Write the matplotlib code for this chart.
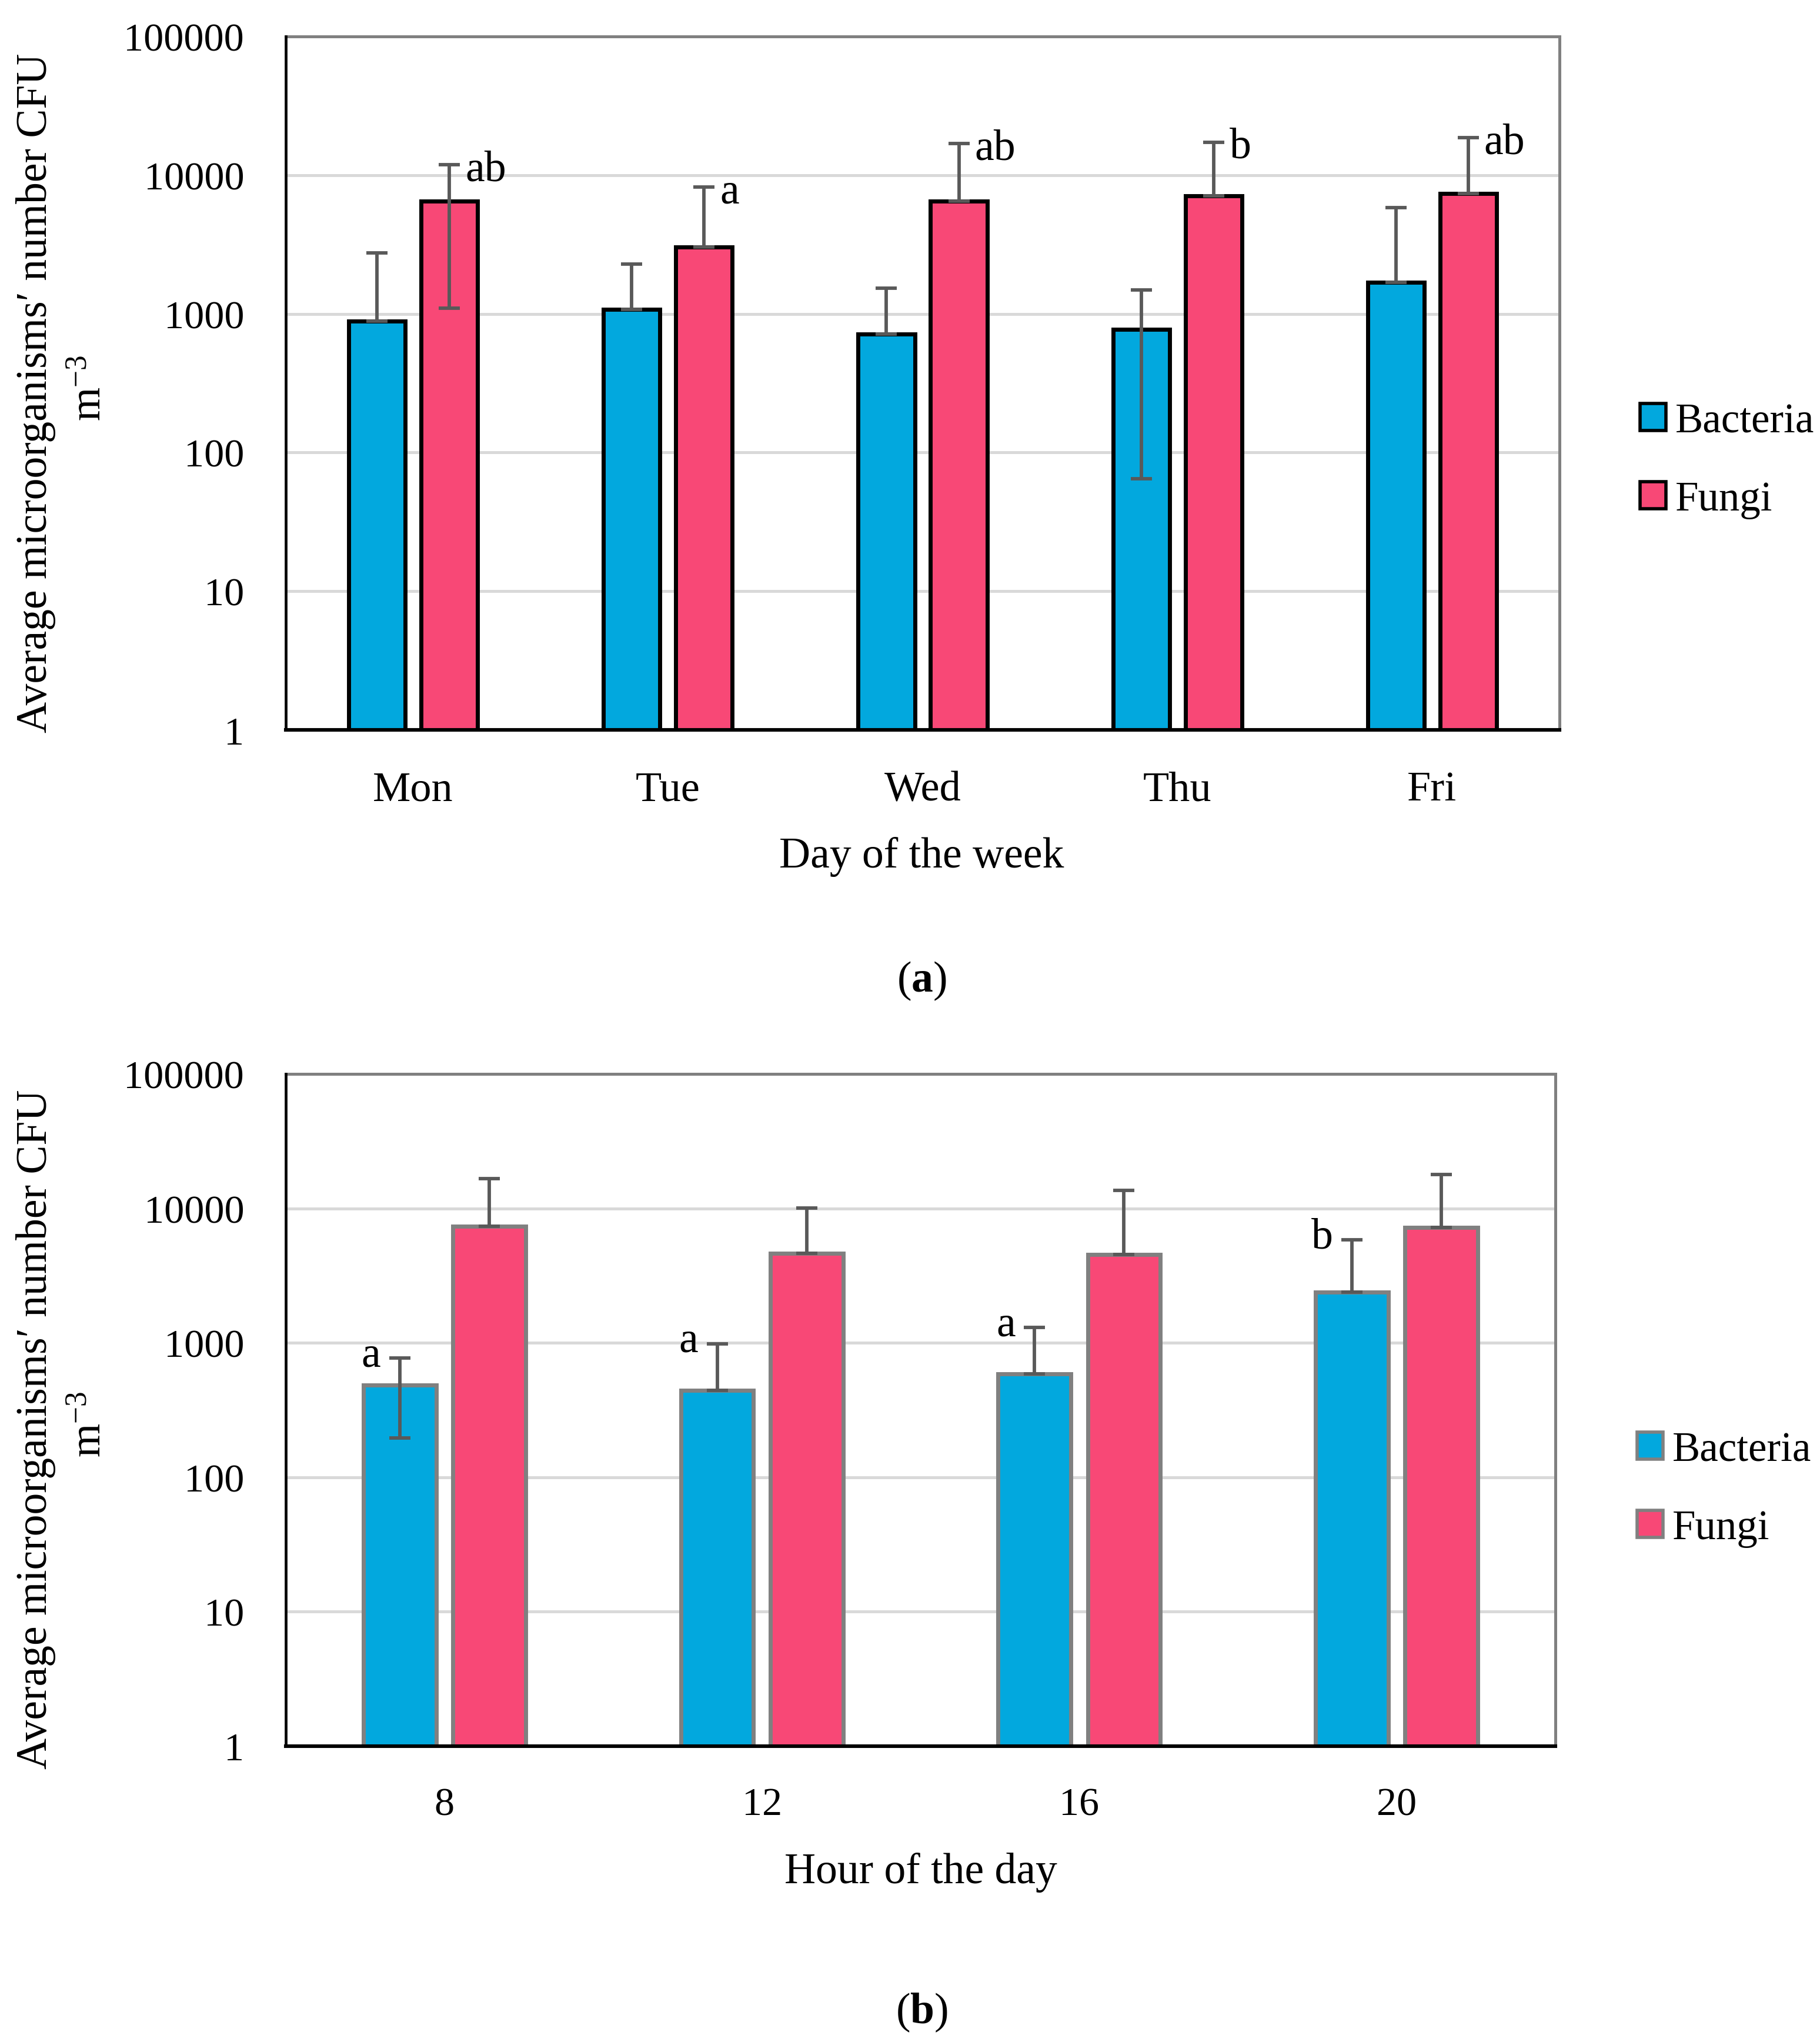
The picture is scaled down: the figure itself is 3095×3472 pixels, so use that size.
import matplotlib
matplotlib.use("Agg")
import matplotlib.pyplot as plt
from matplotlib.patches import Patch
from matplotlib.ticker import FixedLocator, NullLocator
import numpy as np

# ---------------- data ----------------
days = ["Mon", "Tue", "Wed", "Thu", "Fri"]
bact_day = [890, 1080, 715, 775, 1680]
bact_day_err = [1860, 1200, 810, 710, 4140]
fungi_day = [6500, 3030, 6500, 7120, 7360]
fungi_day_err = [5400, 5140, 10400, 10200, 11260]
day_letters = ["ab", "a", "ab", "b", "ab"]          # on fungi bars

hours = ["8", "12", "16", "20"]
bact_hour = [483, 444, 586, 2380]
bact_hour_err = [287, 538, 710, 3440]
fungi_hour = [7390, 4620, 4550, 7225]
fungi_hour_err = [9200, 5450, 9040, 10700]
hour_letters = ["a", "a", "a", "b"]                 # on bacteria bars

ytick_vals = [1, 10, 100, 1000, 10000, 100000]
ytick_labels = ["1", "10", "100", "1000", "10000", "100000"]
series_names = ["Bacteria", "Fungi"]

# ---------------- style ----------------
FAM = ["Liberation Serif", "DejaVu Serif"]
plt.rcParams["font.family"] = FAM
plt.rcParams["mathtext.fontset"] = "custom"
plt.rcParams["mathtext.rm"] = "Liberation Serif"
plt.rcParams["mathtext.it"] = "Liberation Serif:italic"
plt.rcParams["mathtext.bf"] = "Liberation Serif:bold"
FS = 49        # digits
FSW = 53       # words
C_BACT = "#02A8DE"
C_FUNGI = "#F84876"
C_ERR = "#595959"
C_GRID = "#D9D9D9"
C_FRAME = "#808080"

W, H = 3095, 3473
fig = plt.figure(figsize=(W / 100, H / 100), dpi=100)


def lower_err(vals, errs):
    return [e if v - e > 0 else 0 for v, e in zip(vals, errs)]


def setup_axes(ax, cats, xfs):
    ax.set_yscale("log")
    ax.set_ylim(1, 100000)
    ax.set_xlim(-0.5, len(cats) - 0.5)
    ax.yaxis.set_major_locator(FixedLocator(ytick_vals))
    ax.yaxis.set_minor_locator(NullLocator())
    ax.set_yticklabels(ytick_labels)
    ax.set_xticks(np.arange(len(cats)))
    ax.set_xticklabels(cats)
    ax.tick_params(axis="both", length=0)
    ax.tick_params(axis="y", pad=51, labelsize=FS)
    ax.tick_params(axis="x", pad=50, labelsize=xfs)
    ax.grid(axis="y", color=C_GRID, linewidth=3.6, zorder=0)
    ax.set_axisbelow(True)
    ax.spines["left"].set_color("black")
    ax.spines["left"].set_linewidth(3.4)
    ax.spines["bottom"].set_color("black")
    ax.spines["bottom"].set_linewidth(4.4)
    ax.spines["top"].set_color(C_FRAME)
    ax.spines["top"].set_linewidth(3.6)
    ax.spines["right"].set_color(C_FRAME)
    ax.spines["right"].set_linewidth(3.6)
    ax.spines["bottom"].set_zorder(5)
    ax.spines["left"].set_zorder(5)


def draw_panel(ax, cats, b_vals, b_err, f_vals, f_err, width, off, edge):
    x = np.arange(len(cats))
    ax.bar(x - off, b_vals, width, color=C_BACT, edgecolor=edge, linewidth=5, zorder=2)
    ax.bar(x + off, f_vals, width, color=C_FUNGI, edgecolor=edge, linewidth=5, zorder=2)
    ax.errorbar(x - off, b_vals, yerr=[lower_err(b_vals, b_err), b_err], fmt="none",
                ecolor=C_ERR, elinewidth=4.2, capsize=13, capthick=4.2, zorder=3)
    ax.errorbar(x + off, f_vals, yerr=[lower_err(f_vals, f_err), f_err], fmt="none",
                ecolor=C_ERR, elinewidth=4.2, capsize=13, capthick=4.2, zorder=3)
    return x


# ---------------- panel (a) ----------------
axA = fig.add_axes([486 / W, 1 - 1242 / H, (2652 - 486) / W, (1242 - 63) / H])
setup_axes(axA, days, FSW - 1)
xa = draw_panel(axA, days, bact_day, bact_day_err, fungi_day, fungi_day_err,
                0.222, 0.142, "black")
for i, lab in enumerate(day_letters):
    axA.text(xa[i] + 0.142 + 0.062, (fungi_day[i] + fungi_day_err[i]) * 0.92, lab,
             ha="left", va="center", fontsize=FSW, zorder=4)

# ---------------- panel (b) ----------------
axB = fig.add_axes([486 / W, 1 - 2970 / H, (2645 - 486) / W, (2970 - 1827) / H])
setup_axes(axB, hours, FS)
xb = draw_panel(axB, hours, bact_hour, bact_hour_err, fungi_hour, fungi_hour_err,
                0.229, 0.141, C_FRAME)
for i, lab in enumerate(hour_letters):
    axB.text(xb[i] - 0.141 - 0.06, (bact_hour[i] + bact_hour_err[i]) * 1.05, lab,
             ha="right", va="center", fontsize=FSW, zorder=4)

# ---------------- legends ----------------
for ax, edge, anchor in [(axA, "black", (2789 / W, 1 - 784 / H)),
                         (axB, C_FRAME, (2784 / W, 1 - 2533 / H))]:
    handles = [Patch(facecolor=C_BACT, edgecolor=edge, linewidth=4),
               Patch(facecolor=C_FUNGI, edgecolor=edge, linewidth=4)]
    ax.legend(handles, series_names, loc="center left", bbox_to_anchor=anchor,
              bbox_transform=fig.transFigure, frameon=False, fontsize=51,
              handlelength=0.62, handleheight=0.62, handletextpad=0.22,
              labelspacing=0.95, borderpad=0, borderaxespad=0)

# ---------------- axis titles and panel labels ----------------
ylab1 = "Average microorganisms\u2032 number CFU"
ylab2 = "m$^{-3}$"
for yc in (668, 2430):
    fig.text(61 / W, 1 - yc / H, ylab1, rotation=90, ha="center", va="center",
             fontsize=FSW, family=FAM)
    fig.text(153 / W, 1 - (yc - 8) / H, ylab2, rotation=90, ha="center", va="center",
             fontsize=FSW)

fig.text(1567 / W, 1 - 1475 / H, "Day of the week", ha="center", va="baseline", fontsize=FSW)
fig.text(1566 / W, 1 - 3202 / H, "Hour of the day", ha="center", va="baseline", fontsize=FSW)
fig.text(1567 / W, 1 - 1686 / H, "($\\mathbf{a}$)", ha="center", va="baseline", fontsize=FSW)
fig.text(1567 / W, 1 - 3440 / H, "($\\mathbf{b}$)", ha="center", va="baseline", fontsize=FSW)

fig.savefig("out.png", dpi=100)
